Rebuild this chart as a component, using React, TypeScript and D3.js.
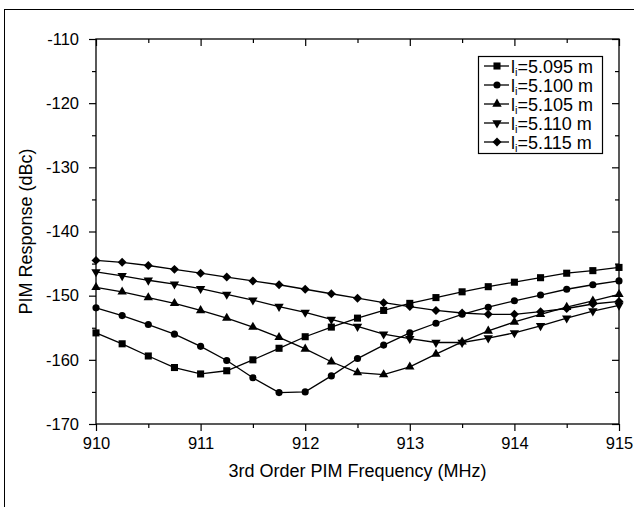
import React, { useEffect, useRef } from 'react';
import * as d3 from 'd3';

// ---- data ----
const freqs = [910, 910.25, 910.5, 910.75, 911, 911.25, 911.5, 911.75, 912, 912.25, 912.5, 912.75, 913, 913.25, 913.5, 913.75, 914, 914.25, 914.5, 914.75, 915];
const li5095 = [-155.8, -157.5, -159.4, -161.2, -162.2, -161.7, -160.0, -158.2, -156.4, -154.9, -153.5, -152.3, -151.2, -150.3, -149.4, -148.6, -147.9, -147.2, -146.5, -146.1, -145.6];
const li5100 = [-151.9, -153.1, -154.5, -156.0, -157.9, -160.1, -162.8, -165.1, -165.0, -162.5, -159.8, -157.7, -155.8, -154.3, -152.9, -151.8, -150.8, -149.9, -149.0, -148.3, -147.7];
const li5105 = [-148.7, -149.4, -150.3, -151.2, -152.3, -153.5, -154.9, -156.5, -158.3, -160.3, -162.0, -162.3, -161.1, -159.1, -157.2, -155.5, -154.1, -152.9, -151.8, -150.8, -149.8];
const li5110 = [-146.3, -146.9, -147.6, -148.2, -148.9, -149.8, -150.7, -151.7, -152.6, -153.7, -154.8, -156.0, -156.7, -157.3, -157.3, -156.6, -155.8, -154.7, -153.5, -152.4, -151.5];
const li5115 = [-144.5, -144.8, -145.3, -145.9, -146.5, -147.1, -147.7, -148.3, -149.0, -149.7, -150.4, -151.1, -151.7, -152.3, -152.7, -152.9, -152.9, -152.5, -152.0, -151.3, -150.9];
const seriesLabels = ['5.095', '5.100', '5.105', '5.110', '5.115'];
const seriesValues = [li5095, li5100, li5105, li5110, li5115];
const markerKinds = ['square', 'circle', 'triangle', 'triangleDown', 'diamond'];
const xMajorTicks = [910, 911, 912, 913, 914, 915];
const xMinorTicks = [910.5, 911.5, 912.5, 913.5, 914.5];
const yMajorTicks = [-170, -160, -150, -140, -130, -120, -110];
const yMinorTicks = [-165, -155, -145, -135, -125, -115];
const xTitle = '3rd Order PIM Frequency (MHz)';
const yTitle = 'PIM Response (dBc)';

const W = 634;
const H = 507;
const M = { left: 96, right: 619, top: 39, bottom: 424 };
const FONT = '"Liberation Sans", Arial, Helvetica, sans-serif';

function symbolPath(kind: string) {
  const gen = d3.symbol();
  if (kind === 'square') return { d: gen.type(d3.symbolSquare).size(50)() as string, rot: 0 };
  if (kind === 'circle') return { d: gen.type(d3.symbolCircle).size(40)() as string, rot: 0 };
  if (kind === 'triangle') return { d: gen.type(d3.symbolTriangle).size(38)() as string, rot: 0 };
  if (kind === 'triangleDown') return { d: gen.type(d3.symbolTriangle).size(38)() as string, rot: 180 };
  return { d: gen.type(d3.symbolSquare).size(40)() as string, rot: 45 };
}

export default function App() {
  const ref = useRef<SVGSVGElement>(null);

  useEffect(() => {
    const svg = d3.select(ref.current);
    svg.selectAll('*').remove();

    const x = d3.scaleLinear().domain([910, 915]).range([M.left, M.right]);
    const y = d3.scaleLinear().domain([-170, -110]).range([M.bottom, M.top]);

    // outer frame
    svg.append('rect')
      .attr('x', 4.5).attr('y', 9.5).attr('width', 800).attr('height', 800)
      .attr('fill', 'none').attr('stroke', '#000').attr('stroke-width', 1);

    const styleAxis = (g: any) => {
      g.select('.domain').remove();
      g.selectAll('line').attr('stroke', '#000').attr('stroke-width', 1.2);
      g.selectAll('text').attr('font-family', FONT).attr('font-size', 16.5).attr('fill', '#000');
    };
    const fmt = (d: any) => String(d);
    const none = () => '';

    // left axis
    svg.append('g').attr('transform', `translate(${M.left},0)`)
      .call(d3.axisLeft(y).tickValues(yMajorTicks).tickSize(7).tickPadding(10).tickFormat(fmt) as any)
      .call(styleAxis);
    svg.append('g').attr('transform', `translate(${M.left},0)`)
      .call(d3.axisLeft(y).tickValues(yMinorTicks).tickSize(4).tickFormat(none) as any)
      .call(styleAxis);
    // right axis (inward)
    svg.append('g').attr('transform', `translate(${M.right},0)`)
      .call(d3.axisRight(y).tickValues(yMajorTicks).tickSize(-7).tickFormat(none) as any)
      .call(styleAxis);
    svg.append('g').attr('transform', `translate(${M.right},0)`)
      .call(d3.axisRight(y).tickValues(yMinorTicks).tickSize(-4).tickFormat(none) as any)
      .call(styleAxis);
    // bottom axis
    svg.append('g').attr('transform', `translate(0,${M.bottom})`)
      .call(d3.axisBottom(x).tickValues(xMajorTicks).tickSize(7).tickPadding(6).tickFormat(fmt) as any)
      .call(styleAxis);
    svg.append('g').attr('transform', `translate(0,${M.bottom})`)
      .call(d3.axisBottom(x).tickValues(xMinorTicks).tickSize(4).tickFormat(none) as any)
      .call(styleAxis);
    // top axis (inward)
    svg.append('g').attr('transform', `translate(0,${M.top})`)
      .call(d3.axisTop(x).tickValues(xMajorTicks).tickSize(-7).tickFormat(none) as any)
      .call(styleAxis);
    svg.append('g').attr('transform', `translate(0,${M.top})`)
      .call(d3.axisTop(x).tickValues(xMinorTicks).tickSize(-4).tickFormat(none) as any)
      .call(styleAxis);

    // frame of plot
    svg.append('rect')
      .attr('x', M.left).attr('y', M.top)
      .attr('width', M.right - M.left).attr('height', M.bottom - M.top)
      .attr('fill', 'none').attr('stroke', '#000').attr('stroke-width', 1.3);

    // series
    const line = d3.line<number>().x((_, i) => x(freqs[i])).y((d) => y(d));
    seriesValues.forEach((vals, si) => {
      svg.append('path').attr('d', line(vals) as string)
        .attr('fill', 'none').attr('stroke', '#000').attr('stroke-width', 1.3);
      const sp = symbolPath(markerKinds[si]);
      svg.append('g').selectAll('path').data(vals).enter().append('path')
        .attr('d', sp.d)
        .attr('transform', (d, i) => `translate(${x(freqs[i])},${y(d)}) rotate(${sp.rot})`)
        .attr('fill', '#000');
    });

    // axis titles
    svg.append('text')
      .attr('x', (M.left + M.right) / 2).attr('y', 477)
      .attr('text-anchor', 'middle').attr('font-family', FONT).attr('font-size', 18)
      .text(xTitle);
    svg.append('text')
      .attr('transform', `translate(32,${(M.top + M.bottom) / 2}) rotate(-90)`)
      .attr('text-anchor', 'middle').attr('font-family', FONT).attr('font-size', 18)
      .text(yTitle);

    // legend
    const lg = svg.append('g');
    const lx = 478, ly = 56, lw = 124, lh = 97, rowH = 19;
    lg.append('rect').attr('x', lx + 0.5).attr('y', ly + 0.5).attr('width', lw).attr('height', lh)
      .attr('fill', '#fff').attr('stroke', '#000').attr('stroke-width', 1.2);
    seriesLabels.forEach((lab, si) => {
      const cy = ly + 10 + si * rowH;
      lg.append('line').attr('x1', lx + 6).attr('x2', lx + 31).attr('y1', cy).attr('y2', cy)
        .attr('stroke', '#000').attr('stroke-width', 1.3);
      const sp = symbolPath(markerKinds[si]);
      lg.append('path').attr('d', sp.d)
        .attr('transform', `translate(${lx + 19},${cy}) rotate(${sp.rot})`).attr('fill', '#000');
      const t = lg.append('text').attr('x', lx + 33).attr('y', cy + 6.5)
        .attr('font-family', FONT).attr('font-size', 18);
      t.append('tspan').text('l');
      t.append('tspan').attr('font-size', 11).attr('dy', 3).text('i');
      t.append('tspan').attr('dy', -3).text(`=${lab} m`);
    });
  }, []);

  return (
    <svg ref={ref} width={W} height={H}
      style={{ position: 'absolute', left: 0, top: 0, background: '#fff' }} />
  );
}
